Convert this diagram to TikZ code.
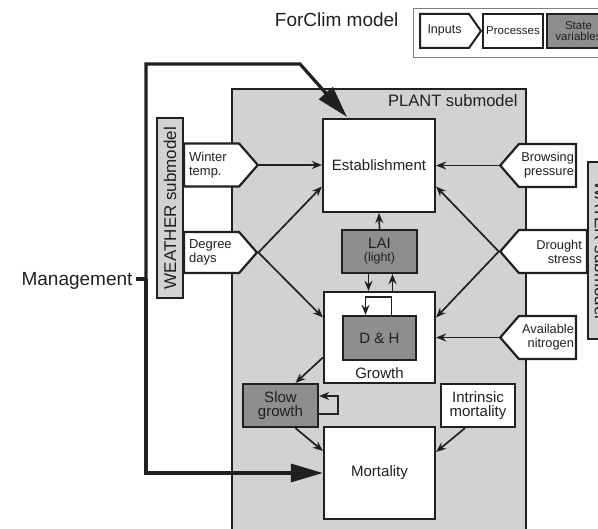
\documentclass[tikz,border=0pt]{standalone}
\usepackage{fontspec}
\setmainfont{Liberation Sans}
\usetikzlibrary{shapes.symbols,arrows.meta}
\definecolor{plantgray}{RGB}{209,210,212}
\definecolor{stategray}{RGB}{141,142,144}
\definecolor{boxline}{RGB}{35,31,32}
\begin{document}
\begin{tikzpicture}[x=1pt,y=-1pt,line join=miter,text=boxline,
	proc/.style={draw=boxline,line width=2.2pt,fill=white,font=\fontsize{15}{14}\selectfont,align=center,inner sep=0pt},
	statevar/.style={proc,fill=stategray,text=boxline},
	inleft/.style={signal,signal to=east,signal pointer angle=98,draw=boxline,line width=2.2pt,fill=white,
		font=\fontsize{13}{14}\selectfont,align=left,text width=45pt,inner xsep=5pt,minimum height=43pt},
	inright/.style={inleft,signal to=west,align=right,text width=53pt,inner xsep=2pt,font=\fontsize{12.8}{14}\selectfont},
	submodel/.style={draw=boxline,line width=2.2pt,fill=plantgray,font=\fontsize{17}{18}\selectfont,inner sep=0pt},
	flow/.style={draw=boxline,line width=1.7pt,-{Stealth[length=10pt,width=8pt]}},
	mgmtline/.style={draw=boxline,line width=3.2pt,-{Triangle[length=32pt,width=18pt]}}]
	\useasboundingbox (0,0) rectangle (598,529);
	\clip (0,0) rectangle (598,529);
	% plant submodel frame
	\draw[boxline,line width=2.2pt,fill=plantgray] (232,89) rectangle (526,545);
	\node[anchor=base east,font=\fontsize{16.5}{18}\selectfont] (plantlbl) at (521,107) {PLANT submodel};
	% legend
	\node[anchor=base east,font=\fontsize{19}{21}\selectfont] (title) at (402,27) {ForClim model};
	\draw[gray,line width=0.8pt] (413,8) rectangle (620,57);
	\node[signal,signal to=east,signal pointer angle=110,draw=boxline,line width=2pt,fill=white,
		minimum height=34pt,inner xsep=7.5pt,font=\fontsize{12.5}{13}\selectfont] (leginp) at (419,31) [anchor=west] {Inputs};
	\node[proc,line width=2pt,minimum width=60pt,minimum height=34pt,font=\fontsize{11.5}{12}\selectfont] (legproc) at (513,31) {Processes};
	\node[statevar,line width=2pt,minimum width=63pt,minimum height=34pt,font=\fontsize{11.5}{10.5}\selectfont] (legstate) at (578.5,31) {State\\variables};
	% management
	\node[anchor=base east,font=\fontsize{19}{21}\selectfont] (mgmt) at (136,286) {Management};
	\coordinate (trunk) at (146,279);
	\coordinate (kink) at (300,64);
	\draw[draw=boxline,line width=3.2pt] (mgmt.east |- trunk) -- (trunk);
	\draw[mgmtline] (trunk) |- (kink) -- (347,117);
	\node[proc,minimum width=111pt,minimum height=92pt] (mort) at (379.5,473) {Mortality};
	\draw[mgmtline] (trunk) |- (mort.west);
	% submodels and inputs
	\node[inleft,anchor=west] (wint) at (183,165) {Winter\\temp.};
	\node[inleft,anchor=west,minimum height=41pt] (deg) at (183,252.5) {Degree\\days};
	\node[submodel,rotate=90,minimum width=180pt,minimum height=26pt] (wea) at (170,208) {WEATHER submodel};
	\node[inright,anchor=east] (brow) at (577,165.5) {Browsing\\pressure};
	\node[inright,anchor=east,text width=58pt,inner xsep=5pt] (drou) at (588,251.5) {Drought\\stress};
	\node[inright,anchor=east] (nitro) at (577,337.5) {Available\\nitrogen};
	\node[submodel,rotate=-90,minimum width=177pt,minimum height=26pt] (wat) at (601,250.5) {WATER submodel};
	% processes and state variables
	\node[proc,minimum width=112pt,minimum height=93pt] (est) at (379,165.5) {Establishment};
	\node[statevar,minimum width=75pt,minimum height=43pt] (lai) at (379.5,251.5) {LAI\\[-1pt]{\fontsize{12.5}{13}\selectfont(light)}};
	\node[proc,minimum width=111pt,minimum height=91pt,
		label={[anchor=south,font=\fontsize{15}{16}\selectfont,inner sep=5pt]south:Growth}] (growth) at (379.5,337.5) {};
	\node[statevar,minimum width=73pt,minimum height=44pt] (dh) at (379.5,338) {D \& H};
	\node[statevar,minimum width=75pt,minimum height=43pt] (slow) at (280.5,405.5) {Slow\\growth};
	\node[proc,minimum width=74pt,minimum height=43pt] (intr) at (478,405.5) {Intrinsic\\mortality};
	% influences
	\draw[flow] (wint.east) -- (wint.east -| est.west);
	\draw[flow] (deg.east) -- ([yshift=-21pt]est.west);
	\draw[flow] (deg.east) -- ([yshift=20pt]growth.west);
	\draw[flow] (brow.west) -- (brow.west -| est.east);
	\draw[flow] (drou.west) -- ([yshift=-21pt]est.east);
	\draw[flow] (drou.west) -- ([yshift=20pt]growth.east);
	\draw[flow] (nitro.west) -- (nitro.west -| growth.east);
	\draw[flow] (lai.north) -- (est.south);
	\draw[flow] ([xshift=-11pt]lai.south) -- ([xshift=-11pt]growth.north);
	\draw[flow] ([xshift=13pt]growth.north) -- ([xshift=13pt]lai.south);
	\draw[flow] ([xshift=12pt]dh.north) -- ++(0,-18) -| ([xshift=-14pt]dh.north);
	\draw[flow] ([yshift=-20pt]growth.west) -- ([xshift=15pt]slow.north);
	\draw[flow] ([yshift=-8.5pt]slow.east) -- ++(19,0) |- ([yshift=9.5pt]slow.east);
	\draw[flow] ([xshift=15pt]slow.south) -- ([yshift=22pt]mort.west);
	\draw[flow] ([xshift=-13pt]intr.south) -- ([yshift=21pt]mort.east);
\end{tikzpicture}
\end{document}
